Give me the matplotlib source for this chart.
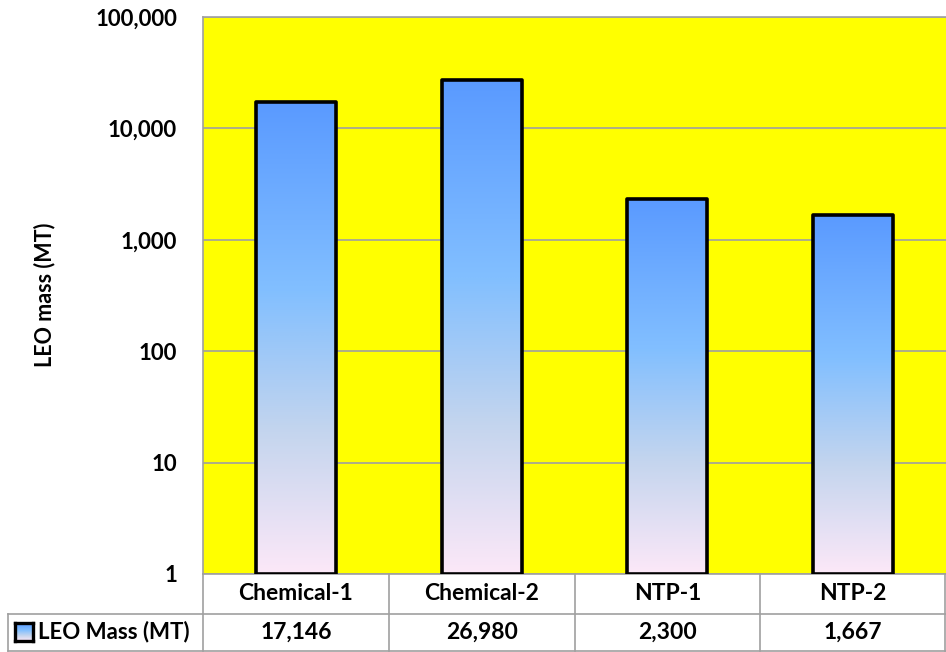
import numpy as np
import matplotlib
matplotlib.use('Agg')
import matplotlib.pyplot as plt
import matplotlib.transforms as mtransforms
from matplotlib.colors import LinearSegmentedColormap
from matplotlib.lines import Line2D
from matplotlib.ticker import FixedLocator, NullLocator

# 数据
categories = ['Chemical-1', 'Chemical-2', 'NTP-1', 'NTP-2']
leo_mass = [17146, 26980, 2300, 1667]
series_name = 'LEO Mass (MT)'
y_ticks = [1, 10, 100, 1000, 10000, 100000]

plt.rcParams['font.family'] = ['Lato', 'DejaVu Sans']
plt.rcParams['font.weight'] = 'bold'

W, H = 946, 652
fig = plt.figure(figsize=(W / 100, H / 100), dpi=100)
ax = fig.add_axes([203 / W, 1 - 574 / H, 1 - 203 / W, (574 - 17) / H])
ax.set_facecolor('#FFFF00')

# 渐变色：顶部蓝色 -> 底部淡粉色
cmap = LinearSegmentedColormap.from_list(
    'bar', [(0.0, '#FCE8F8'), (0.3, '#C4D5EE'), (0.6, '#82BFFF'), (1.0, '#5A9AFF')])
grad = np.linspace(1, 0, 256).reshape(-1, 1)

ax.set_yscale('log')
ax.set_ylim(1, 100000)
x = np.arange(len(categories))
ax.set_xlim(-0.5, len(categories) - 0.5)
width = 0.43

bars = ax.bar(x, leo_mass, width=width, bottom=1, facecolor='none',
              edgecolor='black', linewidth=2.6, zorder=3)
trans = mtransforms.blended_transform_factory(ax.transData, ax.transAxes)
for xi, v, b in zip(x, leo_mass, bars):
    b.set_joinstyle('round')
    top = np.log10(v) / 5
    im = ax.imshow(grad, cmap=cmap, aspect='auto', interpolation='bilinear',
                   extent=(xi - width / 2, xi + width / 2, 0, top),
                   transform=trans, zorder=2)
    im.set_clip_path(b)
ax.set_xlim(-0.5, len(categories) - 0.5)
ax.set_ylim(1, 100000)

# 坐标轴与网格
ax.yaxis.set_major_locator(FixedLocator(y_ticks))
ax.yaxis.set_minor_locator(NullLocator())
ax.set_yticklabels([f'{t:,}' for t in y_ticks], fontsize=16, fontweight='bold')
ax.tick_params(axis='y', length=0, pad=18.7)
ax.set_xticks([])
ax.grid(axis='y', color='#A0A0A0', linewidth=1.2)
ax.set_axisbelow(True)
for s in ['left', 'top', 'bottom']:
    ax.spines[s].set_color('#A0A0A0')
    ax.spines[s].set_linewidth(1.2)
ax.spines['right'].set_visible(False)

fig.text(45 / W, 1 - 295 / H, 'LEO mass (MT)', rotation=90, ha='center',
         va='center', fontsize=15.5, fontweight='bold')

# 数据表
gray = '#A0A0A0'
def fy(py):
    return 1 - py / H

def fx(px):
    return px / W

col_w = (W - 203) / len(categories)
fig.add_artist(Line2D([fx(8), 1], [fy(614), fy(614)], color=gray, lw=1.2))
fig.add_artist(Line2D([fx(8), 1], [fy(651), fy(651)], color=gray, lw=1.2))
fig.add_artist(Line2D([fx(8), fx(8)], [fy(614), fy(651)], color=gray, lw=1.2))
for i in range(len(categories) + 1):
    px = 203 + col_w * i
    if i == len(categories):
        px = W - 1
    fig.add_artist(Line2D([fx(px), fx(px)], [fy(574), fy(651)], color=gray, lw=1.2))

for i, (c, v) in enumerate(zip(categories, leo_mass)):
    cx = fx(203 + col_w * (i + 0.5))
    fig.text(cx, fy(594), c, ha='center', va='center', fontsize=16.5, fontweight='bold')
    fig.text(cx, fy(632), f'{v:,}', ha='center', va='center', fontsize=16.5,
             fontweight='bold')

# 图例色块
kax = fig.add_axes([fx(15), fy(641), fx(18), 18 / H])
kax.imshow(grad, cmap=cmap, aspect='auto', extent=(0, 1, 0, 1))
kax.set_xticks([])
kax.set_yticks([])
for s in kax.spines.values():
    s.set_linewidth(2.4)
    s.set_color('black')
fig.text(fx(38), fy(632), series_name, ha='left', va='center', fontsize=16,
         fontweight='bold')

fig.savefig('out.png', dpi=100, facecolor='white')
